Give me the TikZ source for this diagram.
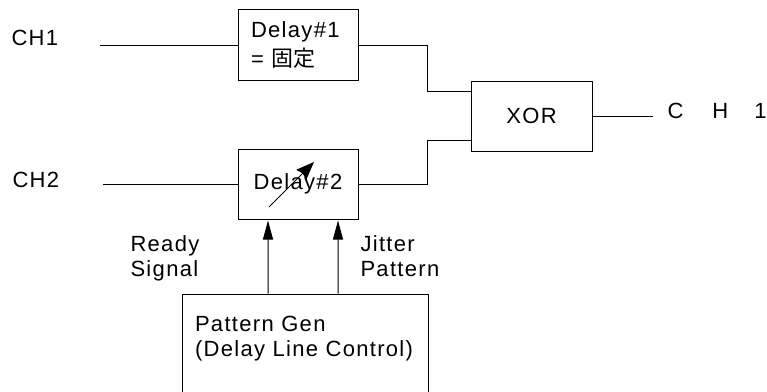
\documentclass[tikz,border=0pt]{standalone}
\usepackage{fontspec}
\setmainfont{Liberation Sans}[LetterSpace=6]
\newfontfamily\cjk{Noto Sans CJK JP}
\usetikzlibrary{arrows.meta,positioning}

\begin{document}
\begin{tikzpicture}[x=1bp, y=1bp,
  font=\fontsize{22bp}{25bp}\selectfont, line width=1bp,
  box/.style={draw, minimum width=120bp, minimum height=70bp, inner sep=0pt},
  txt/.style={inner sep=0pt, align=left},
  sig/.style={-{Triangle[length=19bp,width=10bp]}, shorten >=1bp}]
  \useasboundingbox (0,0) rectangle (767,391);
  % delay blocks and gate
  \node[box, minimum height=71bp, align=left, text width=94bp] (dly1) at (298,346) {Delay\#1\\[4bp]= {\cjk 固定}};
  \node[box] (dly2) at (298,207) {Delay\#2};
  \node[box, minimum width=121bp] (xor) at (531.5,275) {XOR};
  \node[box, minimum width=246bp, minimum height=110bp] (pg) at (305,42) {};
  % labels
  \node[txt, anchor=base west] (ch1) at (11,346) {CH1};
  \node[txt, anchor=base west] (ch2) at (12,204) {CH2};
  \node[txt, anchor=base west] (chout) at (667,273) {C\hspace{29bp}H\hspace{26bp}1};
  \node[txt, anchor=north west] (rdy) at (130,156) {Ready\\Signal};
  \node[txt, anchor=north west] (jit) at (360,156) {Jitter\\Pattern};
  \node[txt, anchor=north west] (pgtxt) at ([xshift=13bp,yshift=-22bp]pg.north west) {Pattern Gen\\(Delay Line Control)};
  \coordinate (in1) at (100,346);
  \coordinate (in2) at (103,207);
  \coordinate (out) at (653,275);
  % wiring
  \draw (in1) -- (dly1.west);
  \draw (in2) -- (dly2.west);
  \draw (dly1.east) -- ++(69,0) |- ([yshift=25bp]xor.west);
  \draw (dly2.east) -- ++(69,0) |- ([yshift=-24bp]xor.west);
  \draw (xor.east) -- (out);
  \draw[sig] ([xshift=-37bp]pg.north) -- ([xshift=-30bp]dly2.south);
  \draw[sig] ([xshift=33bp]pg.north) -- ([xshift=40bp]dly2.south);
  \draw[-{Stealth[length=18bp,width=14bp,inset=2bp]}] ([shift={(-29bp,-23bp)}]dly2.center) -- ([shift={(16bp,22bp)}]dly2.center);
\end{tikzpicture}
\end{document}
